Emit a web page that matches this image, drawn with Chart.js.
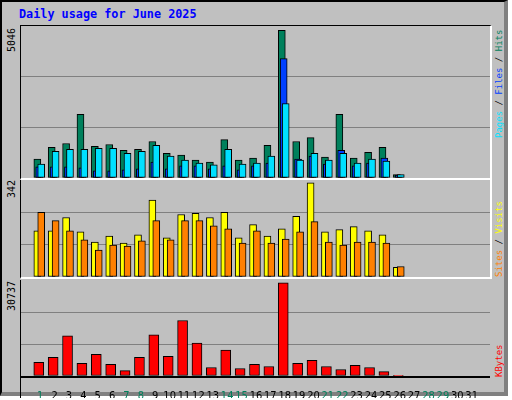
<!DOCTYPE html>
<html><head><meta charset="utf-8">
<script src="https://cdn.jsdelivr.net/npm/chart.js@4"></script>
<style>
body{margin:0;width:512px;height:400px;background:#fff;overflow:hidden}
#frame{position:absolute;left:0;top:0;width:508px;height:396px;background:#c0c0c0;border-top:2px solid #000;border-left:2px solid #000;border-right:4px solid #808080;border-bottom:4px solid #808080;box-sizing:border-box}
.p{position:absolute;box-sizing:content-box}
.t{position:absolute;font-family:"DejaVu Sans Mono",monospace;white-space:nowrap;line-height:1}
.up{transform:rotate(-90deg);transform-origin:0 0}
</style></head><body>
<div id="frame"></div>
<div class="t" style="left:19px;top:9px;font-size:11.8px;font-weight:bold;color:#0000ff">Daily usage for June 2025</div>
<div class="p" style="left:20px;top:25px;width:469px;height:152px;border-top:1px solid #000;border-left:1px solid #000;border-bottom:2px solid #fff;border-right:2px solid #fff"><canvas id="c1"></canvas></div>
<div class="p" style="left:20px;top:180px;width:469px;height:97px;border-left:1px solid #000;border-bottom:2px solid #fff;border-right:2px solid #fff"><canvas id="c2"></canvas></div>
<div class="p" style="left:20px;top:280px;width:469px;height:118px;border-left:1px solid #000;"><canvas id="c3"></canvas></div>
<div style="position:absolute;left:20px;top:376px;width:470px;height:2px;background:#000"></div>
<div class="t up" style="left:7px;top:52px;font-size:10px;color:#000">5046</div>
<div class="t up" style="left:7px;top:198px;font-size:10px;color:#000">342</div>
<div class="t up" style="left:7px;top:311px;font-size:10px;color:#000">30737</div>
<div class="t up" style="left:495px;top:138px;font-size:9px"><span style="color:#00e0ff">Pages</span><span style="color:#000"> / </span><span style="color:#0040ff">Files</span><span style="color:#000"> / </span><span style="color:#00805c">Hits</span></div>
<div class="t up" style="left:495px;top:277px;font-size:9px"><span style="color:#ff8000">Sites</span><span style="color:#000"> / </span><span style="color:#ffff00">Visits</span></div>
<div class="t up" style="left:495px;top:377px;font-size:9px;color:#ff0000">KBytes</div>
<script>
const days=[1,2,3,4,5,6,7,8,9,10,11,12,13,14,15,16,17,18,19,20,21,22,23,24,25,26,27,28,29,30,31];
const weekend=[1,7,8,14,15,21,22,28,29];
const hits=[646,1046,1180,2180,1080,1147,947,980,1247,847,780,613,547,1313,613,680,1113,5046,1247,1380,713,2180,680,880,1046,113];
const files=[380,380,380,347,247,247,280,313,547,313,413,413,313,413,280,413,513,4080,647,747,480,947,413,513,680,100];
const pages=[480,913,980,980,1013,1013,847,913,1113,747,613,513,447,980,480,513,747,2547,613,847,613,847,513,647,580,113];
const visits=[168,168,216,164,127,149,123,153,279,142,227,231,216,235,142,190,149,175,220,342,164,172,183,168,153,35];
const sites=[235,205,168,135,98,116,112,131,205,135,205,205,186,175,123,168,123,138,164,201,127,116,127,127,123,38];
const kbytes=[4488,6171,13240,4151,7181,3815,1795,6171,13576,6508,18289,10883,2805,8527,2468,3815,3142,30737,4151,5161,3142,2132,3478,2805,1459,200];
const XMIN=0.19,XMAX=31.75;
function pts(arr,off){return arr.map((v,i)=>({x:days[i]+off,y:v}));}
function ds(arr,off,color,order,w){return {data:pts(arr,off),backgroundColor:color,borderColor:'#000',borderWidth:1,barThickness:w||7,order:order,grouped:false,borderSkipped:false};}
function mk(id,datasets,max,showX){
  const T=max*1.03;
  return new Chart(document.getElementById(id),{type:'bar',data:{datasets},
   options:{responsive:true,maintainAspectRatio:false,animation:false,layout:{padding:0},
    plugins:{legend:{display:false},tooltip:{enabled:false}},
    scales:{
     x:{type:'linear',min:XMIN,max:XMAX,display:showX,grid:{display:false},border:{display:false},
        afterBuildTicks:s=>{s.ticks=days.map(d=>({value:d}));},
        afterFit:s=>{s.height=showX?22:0;},
        ticks:{autoSkip:false,maxRotation:0,padding:6,font:{family:'DejaVu Sans Condensed',size:11},
          color:c=>weekend.includes(days[c.index])?'#00805c':'#000',
          callback:(v,i)=>String(days[i])}},
     y:{min:0,max:T,display:true,border:{display:false},
        afterBuildTicks:s=>{s.ticks=[0,T/3,2*T/3,T].map(v=>({value:v}));},
        afterFit:s=>{s.width=0;},
        ticks:{display:false},
        grid:{drawTicks:false,lineWidth:1,color:c=>(c.index===1||c.index===2)?'#808080':'rgba(0,0,0,0)'}}}}});
}
mk('c1',[ds(hits,-0.2,'#00805c',3),ds(files,-0.07,'#0040ff',2),ds(pages,0.07,'#00e0ff',1)],5046,false);
mk('c2',[ds(visits,-0.2,'#ffff00',2),ds(sites,0.07,'#ff8000',1)],342,false);
mk('c3',[ds(kbytes,-0.1,'#ff0000',1,10)],30737,true);
</script>
</body></html>
